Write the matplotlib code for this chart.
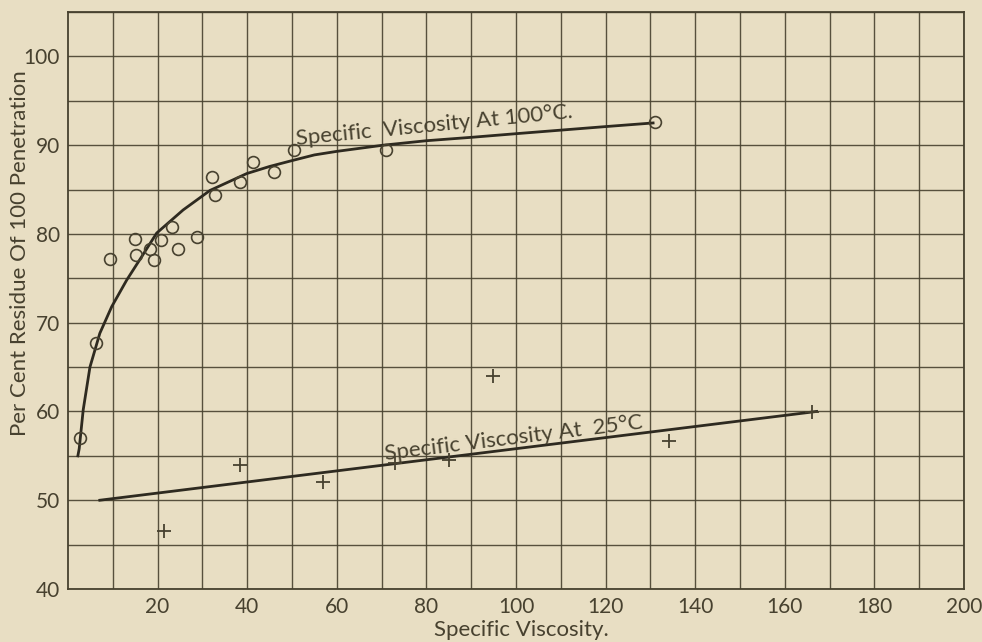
import matplotlib
matplotlib.use("Agg")
import matplotlib.pyplot as plt
from matplotlib.ticker import FixedLocator

# ---- data ----
hot_x = [2.7, 6.25, 9.4, 15.0, 15.2, 18.3, 19.2, 20.7, 23.3, 24.5, 28.8,
         32.2, 32.8, 38.4, 41.4, 46.0, 50.5, 70.9, 131.0]
hot_y = [57.0, 67.7, 77.2, 79.4, 77.6, 78.3, 77.1, 79.3, 80.8, 78.3, 79.7,
         86.4, 84.4, 85.8, 88.1, 87.0, 89.4, 89.5, 92.6]

cold_x = [21.4, 38.5, 57.0, 73.0, 85.1, 94.8, 134.2, 166.1]
cold_y = [46.5, 54.0, 52.1, 54.2, 54.5, 64.0, 56.7, 59.9]

hot_curve_x = [2.2, 2.5, 3.4, 4.9, 7.1, 9.75, 13.1, 16.4, 19.8, 25.7, 31.7,
               39.9, 45.0, 50.3, 55.0, 60.0, 70.4, 80.0, 90.5, 100.2, 120.2, 130.6]
hot_curve_y = [55.0, 55.8, 60.2, 65.0, 68.8, 71.8, 74.8, 77.4, 80.1, 82.7, 84.9,
               86.8, 87.6, 88.3, 88.9, 89.3, 90.0, 90.5, 90.9, 91.3, 92.1, 92.5]

cold_line_x = [7.1, 167.1]
cold_line_y = [50.0, 60.0]

x_ticks = [20, 40, 60, 80, 100, 120, 140, 160, 180, 200]
x_minor = [10, 30, 50, 70, 90, 110, 130, 150, 170, 190]
y_ticks = [40, 50, 60, 70, 80, 90, 100]
y_minor = [45, 55, 65, 75, 85, 95, 105]

hot_label = "Specific  Viscosity At 100°C."
cold_label = "Specific Viscosity At  25°C"
x_label = "Specific Viscosity."
y_label = "Per Cent Residue Of 100 Penetration"

# ---- style ----
bg = "#e8dec3"
ink = "#47412f"
font = "Lato"

fig = plt.figure(figsize=(9.82, 6.42), dpi=100, facecolor=bg)
ax = fig.add_axes([68/982, 1-589/642, (964-68)/982, (589-12)/642])
ax.set_facecolor(bg)

ax.set_xlim(0, 200)
ax.set_ylim(40, 105)
ax.xaxis.set_major_locator(FixedLocator(x_ticks))
ax.xaxis.set_minor_locator(FixedLocator(x_minor))
ax.yaxis.set_major_locator(FixedLocator(y_ticks))
ax.yaxis.set_minor_locator(FixedLocator(y_minor))
ax.grid(True, which="both", color=ink, linewidth=1.0, alpha=0.9)
ax.set_axisbelow(True)
for s in ax.spines.values():
    s.set_color(ink)
    s.set_linewidth(1.3)
ax.tick_params(which="both", length=0, colors=ink, labelsize=15, pad=6)
for lbl in ax.get_xticklabels() + ax.get_yticklabels():
    lbl.set_fontfamily(font)
    lbl.set_fontweight("normal")

ax.plot(hot_curve_x, hot_curve_y, color="#2e2a20", linewidth=2.0, zorder=3)
ax.plot(cold_line_x, cold_line_y, color="#2e2a20", linewidth=2.0, zorder=3)
ax.plot(hot_x, hot_y, linestyle="none", marker="o", markersize=8.5,
        markerfacecolor="none", markeredgecolor=ink, markeredgewidth=1.2, zorder=4)
ax.plot(cold_x, cold_y, linestyle="none", marker="+", markersize=10,
        color=ink, markeredgewidth=1.3, zorder=4)

ax.text(51.0, 90.0, hot_label, rotation=5.6, rotation_mode="anchor",
        ha="left", va="baseline", fontsize=16, color=ink,
        family=font, fontweight="normal", zorder=5)
ax.text(70.8, 54.5, cold_label, rotation=7.0, rotation_mode="anchor",
        ha="left", va="baseline", fontsize=16, color=ink,
        family=font, fontweight="normal", zorder=5)

fig.text(521/982, 1-630/642, x_label, ha="center", va="center",
         fontsize=16, color=ink, family=font, fontweight="normal")
fig.text(20/982, 1-253/642, y_label, ha="center", va="center", rotation=90,
         fontsize=16, color=ink, family=font, fontweight="normal")

fig.savefig("out.png", dpi=100, facecolor=bg)
